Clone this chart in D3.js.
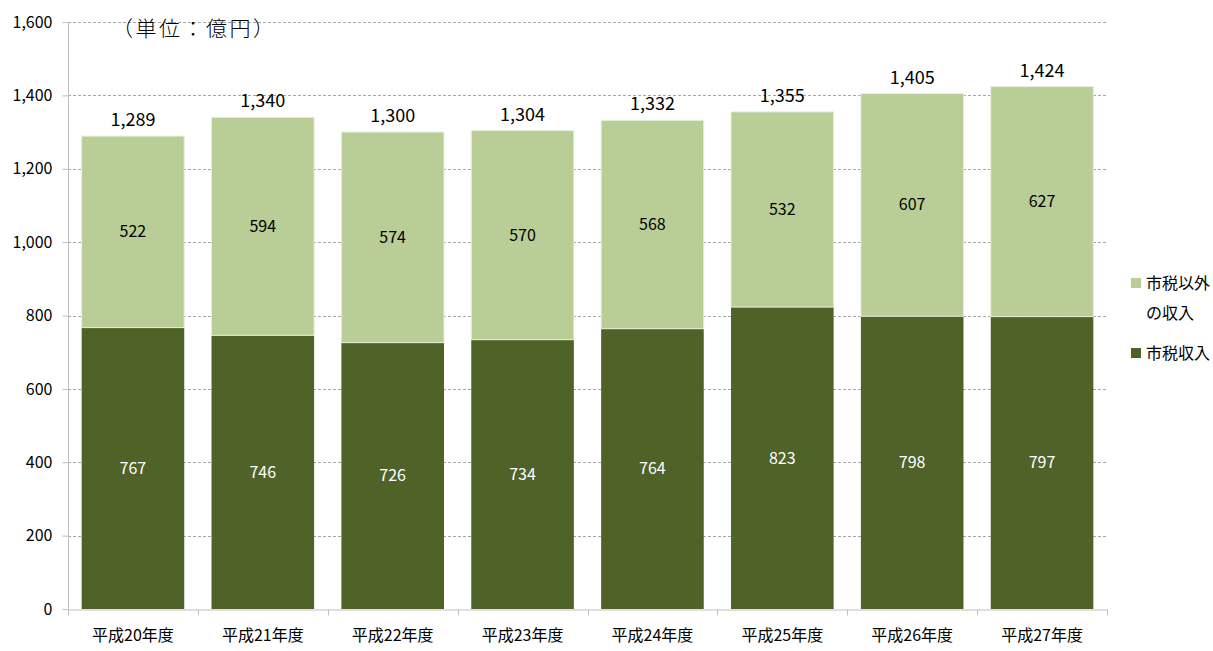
<!DOCTYPE html>
<html>
<head>
<meta charset="utf-8">
<script src="https://cdn.jsdelivr.net/npm/d3@7"></script>
<style>
body{margin:0;background:#fff;}
text{font-family:"Liberation Sans Narrow","Noto Sans CJK JP",sans-serif;}
</style>
</head>
<body>
<svg class="chart" width="1213" height="651"></svg>
<script>
var years = ["平成20年度","平成21年度","平成22年度","平成23年度","平成24年度","平成25年度","平成26年度","平成27年度"];
var taxIncome = [767,746,726,734,764,823,798,797];
var otherIncome = [522,594,574,570,568,532,607,627];
var totals = [1289,1340,1300,1304,1332,1355,1405,1424];
var yTicks = [0,200,400,600,800,1000,1200,1400,1600];

var plotLeft=68, plotRight=1107, plotTop=22, plotBottom=609;
var darkGreen="#4f6228", lightGreen="#b9cd97";

var svg = d3.select(".chart");

var scaleX = d3.scaleBand().domain(years).range([plotLeft,plotRight]).paddingInner(0.21).paddingOuter(0.105);
var scaleY = d3.scaleLinear().domain([0,1600]).range([plotBottom,plotTop]);
var band = d3.scaleBand().domain(years).range([plotLeft,plotRight]);

// grid
svg.selectAll(".grid")
	.data(yTicks.filter(function(d){return d>0;}))
	.enter()
	.append("line")
	.attr("x1",plotLeft).attr("x2",plotRight)
	.attr("y1",function(d){return Math.round(scaleY(d))+0.5;})
	.attr("y2",function(d){return Math.round(scaleY(d))+0.5;})
	.style("stroke","#a6a6a6").style("stroke-dasharray","3,2");

// y axis
var yAxis = d3.axisLeft(scaleY).tickValues(yTicks).tickSize(6).tickPadding(10).tickFormat(d3.format(","));
var gy = svg.append("g").attr("transform","translate("+(plotLeft+0.5)+",0)").call(yAxis);
gy.select(".domain").style("stroke","#bfbfbf").attr("d","M0,"+plotBottom+"V"+plotTop);
gy.selectAll(".tick line").style("stroke","#bfbfbf");
gy.selectAll(".tick text").style("font-size","16px").style("fill","#000");

// x axis
var xAxis = d3.axisBottom(band).tickSize(0).tickPadding(20);
var gx = svg.append("g").attr("transform","translate(0,"+(plotBottom+0.5)+")").call(xAxis);
gx.select(".domain").style("stroke","#bfbfbf");
gx.selectAll(".tick text").style("font-size","16px").style("fill","#000");
gx.selectAll(".sep")
	.data(d3.range(years.length+1))
	.enter()
	.append("line")
	.attr("x1",function(i){return Math.round(plotLeft+i*band.bandwidth())+0.5;})
	.attr("x2",function(i){return Math.round(plotLeft+i*band.bandwidth())+0.5;})
	.attr("y1",0).attr("y2",6)
	.style("stroke","#bfbfbf");

// bars
svg.selectAll(".taxbar")
	.data(years)
	.enter()
	.append("rect")
	.attr("x",function(d){return scaleX(d);})
	.attr("width",scaleX.bandwidth())
	.attr("y",function(d,i){return scaleY(taxIncome[i]);})
	.attr("height",function(d,i){return scaleY(0)-scaleY(taxIncome[i]);})
	.style("fill",darkGreen);

svg.selectAll(".otherbar")
	.data(years)
	.enter()
	.append("rect")
	.attr("x",function(d){return scaleX(d);})
	.attr("width",scaleX.bandwidth())
	.attr("y",function(d,i){return scaleY(taxIncome[i]+otherIncome[i]);})
	.attr("height",function(d,i){return scaleY(taxIncome[i])-scaleY(taxIncome[i]+otherIncome[i]);})
	.style("fill",lightGreen)
	.style("stroke","#e8eedd").style("stroke-width",1);

// segment labels
svg.selectAll(".taxlab")
	.data(years)
	.enter()
	.append("text")
	.attr("x",function(d){return scaleX(d)+scaleX.bandwidth()/2;})
	.attr("y",function(d,i){return scaleY(taxIncome[i]/2);})
	.attr("dy","0.35em")
	.attr("text-anchor","middle")
	.style("font-size","16px").style("fill","#fff")
	.text(function(d,i){return taxIncome[i];});

svg.selectAll(".otherlab")
	.data(years)
	.enter()
	.append("text")
	.attr("x",function(d){return scaleX(d)+scaleX.bandwidth()/2;})
	.attr("y",function(d,i){return scaleY(taxIncome[i]+otherIncome[i]/2);})
	.attr("dy","0.35em")
	.attr("text-anchor","middle")
	.style("font-size","16px").style("fill","#000")
	.text(function(d,i){return otherIncome[i];});

svg.selectAll(".totlab")
	.data(years)
	.enter()
	.append("text")
	.attr("x",function(d){return scaleX(d)+scaleX.bandwidth()/2;})
	.attr("y",function(d,i){return scaleY(totals[i])-10;})
	.attr("text-anchor","middle")
	.style("font-size","18px").style("fill","#000")
	.text(function(d,i){return d3.format(",")(totals[i]);});

// unit
svg.append("text").attr("x",112).attr("y",36)
	.style("font-size","21px").style("fill","#000").style("font-weight","300")
	.style("letter-spacing","2.5px")
	.text("（単位：億円）");

// legend
var legend = [{lines:["市税以外","の収入"],color:lightGreen,y:283},{lines:["市税収入"],color:darkGreen,y:353}];
legend.forEach(function(d){
	svg.append("rect").attr("x",1131).attr("y",d.y-5).attr("width",10).attr("height",10).style("fill",d.color);
	d.lines.forEach(function(l,j){
		svg.append("text").attr("x",1146).attr("y",d.y+j*30).attr("dy","0.35em")
			.style("font-size","16px").style("fill","#000").text(l);
	});
});
</script>
</body>
</html>
